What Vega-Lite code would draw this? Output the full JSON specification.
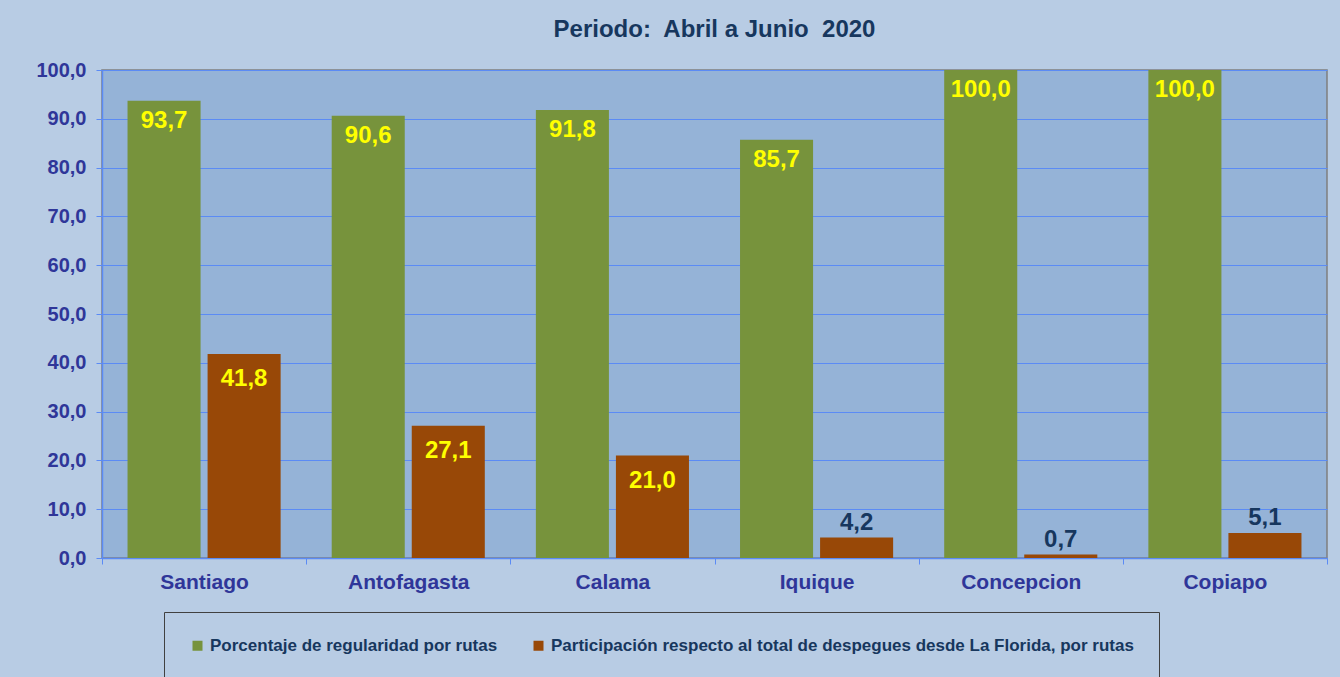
{
  "$schema": "https://vega.github.io/schema/vega-lite/v6.json",
  "width": 1225,
  "height": 488,
  "autosize": {"type": "none"},
  "padding": {"left": 102, "top": 70, "right": 13, "bottom": 119},
  "background": "#B8CCE4",
  "title": {
    "text": "Periodo:\u00a0 Abril a Junio\u00a0 2020",
    "anchor": "middle",
    "offset": 18,
    "font": "Liberation Sans",
    "fontSize": 24,
    "fontWeight": "bold",
    "color": "#17375E"
  },
  "config": {
    "locale": {"number": {"decimal": ",", "thousands": ".", "grouping": [3], "currency": ["", ""]}},
    "view": {"fill": "#95B3D7", "stroke": "#7F7F7F", "strokeWidth": 1.5},
    "font": "Liberation Sans"
  },
  "data": {
    "values": [
      {"ciudad": "Santiago", "serie": "Porcentaje de regularidad por rutas", "valor": 93.7},
      {"ciudad": "Santiago", "serie": "Participación respecto al total de despegues desde La Florida, por rutas", "valor": 41.8},
      {"ciudad": "Antofagasta", "serie": "Porcentaje de regularidad por rutas", "valor": 90.6},
      {"ciudad": "Antofagasta", "serie": "Participación respecto al total de despegues desde La Florida, por rutas", "valor": 27.1},
      {"ciudad": "Calama", "serie": "Porcentaje de regularidad por rutas", "valor": 91.8},
      {"ciudad": "Calama", "serie": "Participación respecto al total de despegues desde La Florida, por rutas", "valor": 21.0},
      {"ciudad": "Iquique", "serie": "Porcentaje de regularidad por rutas", "valor": 85.7},
      {"ciudad": "Iquique", "serie": "Participación respecto al total de despegues desde La Florida, por rutas", "valor": 4.2},
      {"ciudad": "Concepcion", "serie": "Porcentaje de regularidad por rutas", "valor": 100.0},
      {"ciudad": "Concepcion", "serie": "Participación respecto al total de despegues desde La Florida, por rutas", "valor": 0.7},
      {"ciudad": "Copiapo", "serie": "Porcentaje de regularidad por rutas", "valor": 100.0},
      {"ciudad": "Copiapo", "serie": "Participación respecto al total de despegues desde La Florida, por rutas", "valor": 5.1}
    ]
  },
  "encoding": {
    "x": {
      "field": "ciudad",
      "type": "nominal",
      "sort": null,
      "scale": {"paddingInner": 0, "paddingOuter": 0},
      "axis": {
        "title": null,
        "labelAngle": 0,
        "labelFont": "Liberation Sans",
        "labelFontSize": 21,
        "labelFontWeight": "bold",
        "labelColor": "#2F3699",
        "labelPadding": 7,
        "tickBand": "extent",
        "tickColor": "#5B8BF5",
        "tickSize": 6,
        "domainColor": "#5B8BF5",
        "domainWidth": 1.5
      }
    },
    "xOffset": {
      "field": "serie",
      "type": "nominal",
      "sort": ["Porcentaje de regularidad por rutas", "Participación respecto al total de despegues desde La Florida, por rutas"],
      "scale": {"paddingInner": 0.0875, "paddingOuter": 0.319}
    },
    "y": {
      "field": "valor",
      "type": "quantitative",
      "scale": {"domain": [0, 100], "nice": false},
      "axis": {
        "title": null,
        "values": [0, 10, 20, 30, 40, 50, 60, 70, 80, 90, 100],
        "format": ".1f",
        "labelFont": "Liberation Sans",
        "labelFontSize": 20,
        "labelFontWeight": "bold",
        "labelColor": "#2F3699",
        "labelPadding": 10,
        "tickColor": "#5B8BF5",
        "tickSize": 6,
        "grid": true,
        "gridColor": "#5B8BF5",
        "gridWidth": 1.2,
        "domainColor": "#5B8BF5",
        "domainWidth": 1.5
      }
    }
  },
  "layer": [
    {
      "mark": {"type": "bar"},
      "encoding": {
        "color": {
          "field": "serie",
          "type": "nominal",
          "sort": ["Porcentaje de regularidad por rutas", "Participación respecto al total de despegues desde La Florida, por rutas"],
          "scale": {"range": ["#77933C", "#984807"]},
          "legend": {
            "title": null,
            "orient": "none",
            "legendX": 62,
            "legendY": 542,
            "direction": "horizontal",
            "symbolType": "square",
            "symbolSize": 100,
            "symbolStrokeWidth": 0,
            "labelFont": "Liberation Sans",
            "labelFontSize": 17,
            "labelFontWeight": "bold",
            "labelColor": "#17375E",
            "labelLimit": 1000,
            "labelOffset": 4,
            "columnPadding": 32,
            "padding": 25,
            "strokeColor": "#404040",
            "fillColor": "#B8CCE4"
          }
        }
      }
    },
    {
      "transform": [{"filter": "datum.serie == 'Porcentaje de regularidad por rutas'"}],
      "mark": {"type": "text", "baseline": "middle", "dy": 20, "font": "Liberation Sans", "fontSize": 24, "fontWeight": "bold", "color": "#FFFF00"},
      "encoding": {"text": {"field": "valor", "type": "quantitative", "format": ".1f"}}
    },
    {
      "transform": [{"filter": "datum.serie != 'Porcentaje de regularidad por rutas' && datum.valor >= 10"}],
      "mark": {"type": "text", "baseline": "middle", "dy": 25, "font": "Liberation Sans", "fontSize": 24, "fontWeight": "bold", "color": "#FFFF00"},
      "encoding": {"text": {"field": "valor", "type": "quantitative", "format": ".1f"}}
    },
    {
      "transform": [{"filter": "datum.serie != 'Porcentaje de regularidad por rutas' && datum.valor < 10"}],
      "mark": {"type": "text", "baseline": "middle", "dy": -15, "font": "Liberation Sans", "fontSize": 24, "fontWeight": "bold", "color": "#17375E"},
      "encoding": {"text": {"field": "valor", "type": "quantitative", "format": ".1f"}}
    }
  ]
}
